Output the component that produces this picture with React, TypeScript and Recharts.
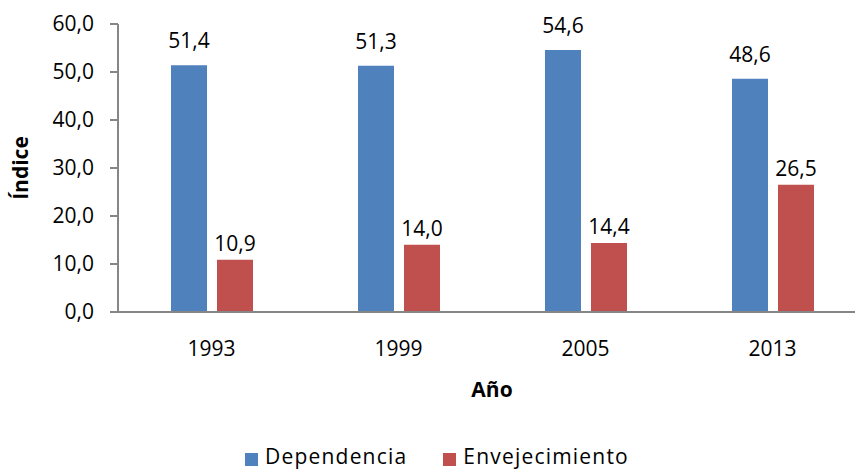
import { BarChart, Bar, XAxis, YAxis, Legend, LabelList } from "recharts";

const years = ["1993", "1999", "2005", "2013"];
const dependencia = [51.4, 51.3, 54.6, 48.6];
const envejecimiento = [10.9, 14.0, 14.4, 26.5];
const yTicks = [0, 10, 20, 30, 40, 50, 60];

const data = years.map((year, i) => ({
	year,
	Dependencia: dependencia[i],
	Envejecimiento: envejecimiento[i],
}));

const fmt = (v: any) => Number(v).toFixed(1).replace(".", ",");

const font = "'Open Sans', 'Liberation Sans', sans-serif";

const App = () => {
	return (
		<div
			style={{
				position: "absolute",
				left: 0,
				top: 0,
				width: 855,
				height: 472,
				overflow: "hidden",
				background: "#fff",
				fontFamily: font,
			}}
		>
			<BarChart
				width={870}
				height={472}
				data={data}
				margin={{ top: 24, right: 4, left: 0, bottom: 0 }}
				barSize={36}
				barGap={10}
			>
				<XAxis
					dataKey="year"
					height={160}
					tickLine={false}
					tickSize={0}
					tickMargin={29}
					axisLine={{ stroke: "#868686", strokeWidth: 2 }}
					tick={{ fill: "#000", fontSize: 21, fontFamily: font }}
					label={{
						value: "Año",
						position: "insideTop",
						offset: 70,
						style: { fontSize: 21, fontWeight: 700, fill: "#000", fontFamily: font },
					}}
				/>
				<YAxis
					width={118}
					domain={[0, 60]}
					ticks={yTicks}
					tickFormatter={fmt}
					tickSize={8}
					tickMargin={16}
					axisLine={{ stroke: "#868686", strokeWidth: 2 }}
					tickLine={{ stroke: "#868686", strokeWidth: 2 }}
					tick={{ fill: "#000", fontSize: 21, fontFamily: font }}
					label={{
						value: "Índice",
						angle: -90,
						position: "insideLeft",
						offset: 21,
						style: { textAnchor: "middle", fontSize: 21, fontWeight: 700, fill: "#000", fontFamily: font },
					}}
				/>
				<Legend
					verticalAlign="middle"
					layout="horizontal"
					align="center"
					iconType="square"
					iconSize={13}
					wrapperStyle={{ top: 442, left: 0, width: 910 }}
					formatter={(value: any) => (
						<span
							style={{
								color: "#000",
								fontSize: 21,
								letterSpacing: 1.2,
								marginLeft: 3,
								marginRight: 26,
								fontFamily: font,
							}}
						>
							{value}
						</span>
					)}
				/>
				<Bar dataKey="Dependencia" fill="#4F81BD" isAnimationActive={false}>
					<LabelList
						dataKey="Dependencia"
						position="top"
						offset={17}
						formatter={fmt}
						style={{ fill: "#000", fontSize: 21, fontFamily: font }}
					/>
				</Bar>
				<Bar dataKey="Envejecimiento" fill="#C0504D" isAnimationActive={false}>
					<LabelList
						dataKey="Envejecimiento"
						position="top"
						offset={9}
						formatter={fmt}
						style={{ fill: "#000", fontSize: 21, fontFamily: font }}
					/>
				</Bar>
			</BarChart>
		</div>
	);
};

export default App;
